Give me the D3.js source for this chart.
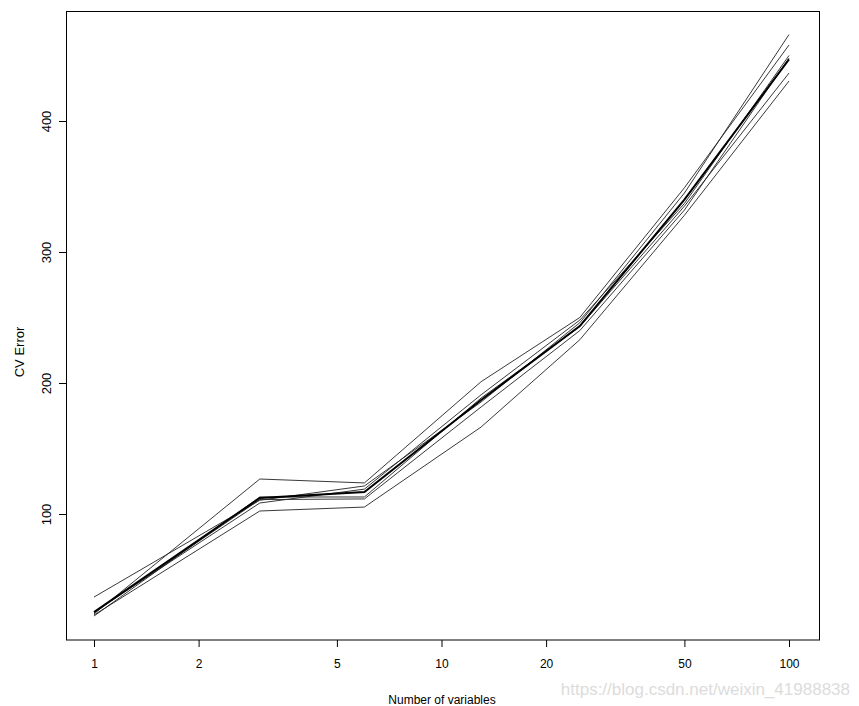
<!DOCTYPE html>
<html>
<head>
<meta charset="utf-8" />
<title>CV Error</title>
<script src="https://cdnjs.cloudflare.com/ajax/libs/d3/7.8.5/d3.min.js"></script>
<style>
  body { margin: 0; background: #ffffff; }
  text { fill: #000; }
</style>
</head>
<body>
<svg id="viz"></svg>

<script>

// number of variables at each step
var nVars = [1, 3, 6, 13, 25, 50, 100];

// thin lines, one per replicate
var rep1 = [36.6, 110.5, 121.4, 185.5, 246, 345, 466];
var rep2 = [23.7, 126.7, 123.7, 201, 250, 349, 458];
var rep3 = [25.2, 108.4, 119, 191, 248, 337, 450];
var rep4 = [22.1, 113, 113, 188.5, 243, 335, 436.6];
var rep5 = [22.9, 102.3, 105.3, 166.4, 233, 328, 430.5];
var rep6 = [24.5, 111, 111.5, 181.7, 240, 332, 448];

// thick line
var meanErr = [25.2, 112.2, 116.8, 187, 243.5, 340, 447];

var xTicks = [1, 2, 5, 10, 20, 50, 100];
var yTicks = [100, 200, 300, 400];

var width = 859, height = 706;

var svg = d3.select("#viz")
  .attr("width", width)
  .attr("height", height);

var xScale = d3.scaleLog()
  .domain([1, 100])
  .range([94, 789]);

var yScale = d3.scaleLinear()
  .domain([100, 400])
  .range([514, 121]);

var line = d3.line()
  .x(function(d) { return xScale(d[0]); })
  .y(function(d) { return yScale(d[1]); });

function pairs(vals) {
  return nVars.map(function(n, i) { return [n, vals[i]]; });
}

//thin lines
svg.selectAll("path.rep")
  .data([rep1, rep2, rep3, rep4, rep5, rep6])
  .enter().append("path")
    .attr("class", "rep")
    .attr("d", function(d) { return line(pairs(d)); })
    .attr("fill", "none")
    .attr("stroke", "#222")
    .attr("stroke-width", 0.9);

//mean line
svg.append("path")
  .attr("d", line(pairs(meanErr)))
  .attr("fill", "none")
  .attr("stroke", "#000")
  .attr("stroke-width", 2);

//box
svg.append("rect")
  .attr("x", 66.5)
  .attr("y", 11.5)
  .attr("width", 753)
  .attr("height", 628.5)
  .attr("fill", "none")
  .attr("stroke", "#000")
  .attr("stroke-width", 1);

//x axis
var xAxis = svg.append("g")
  .attr("transform", "translate(0, 640)")
  .call(d3.axisBottom(xScale)
    .tickValues(xTicks)
    .tickFormat(d3.format("d"))
    .tickSize(7)
    .tickPadding(12));
xAxis.select(".domain").remove();
xAxis.selectAll("text")
  .style("font-family", "'Liberation Sans Narrow', 'Liberation Sans', Arial, sans-serif")
  .style("font-size", "12px")
  .attr("fill", "#000");

//y axis, labels turned like R's default
var yAxis = svg.append("g")
  .attr("transform", "translate(66, 0)")
  .call(d3.axisLeft(yScale)
    .tickValues(yTicks)
    .tickSize(7));
yAxis.select(".domain").remove();
yAxis.selectAll("text")
  .attr("transform", "rotate(-90)")
  .attr("x", 0)
  .attr("y", -15)
  .attr("dy", "0")
  .attr("text-anchor", "middle")
  .style("font-family", "'Liberation Sans', Arial, sans-serif")
  .style("font-size", "13px")
  .attr("fill", "#000");

//axis titles
svg.append("text")
  .attr("x", 442)
  .attr("y", 704)
  .attr("text-anchor", "middle")
  .style("font-family", "'Liberation Sans Narrow', 'Liberation Sans', Arial, sans-serif")
  .style("font-size", "12px")
  .text("Number of variables");

svg.append("text")
  .attr("transform", "translate(24, 352) rotate(-90)")
  .attr("text-anchor", "middle")
  .style("font-family", "'Liberation Sans', Arial, sans-serif")
  .style("font-size", "13px")
  .text("CV Error");

//watermark
svg.append("text")
  .attr("x", 850)
  .attr("y", 695)
  .attr("text-anchor", "end")
  .style("font-family", "'Liberation Sans Narrow', 'Liberation Sans', Arial, sans-serif")
  .style("font-size", "17px")
  .style("fill", "#dcdcdc")
  .text("https://blog.csdn.net/weixin_41988838");

</script>
</body>
</html>
